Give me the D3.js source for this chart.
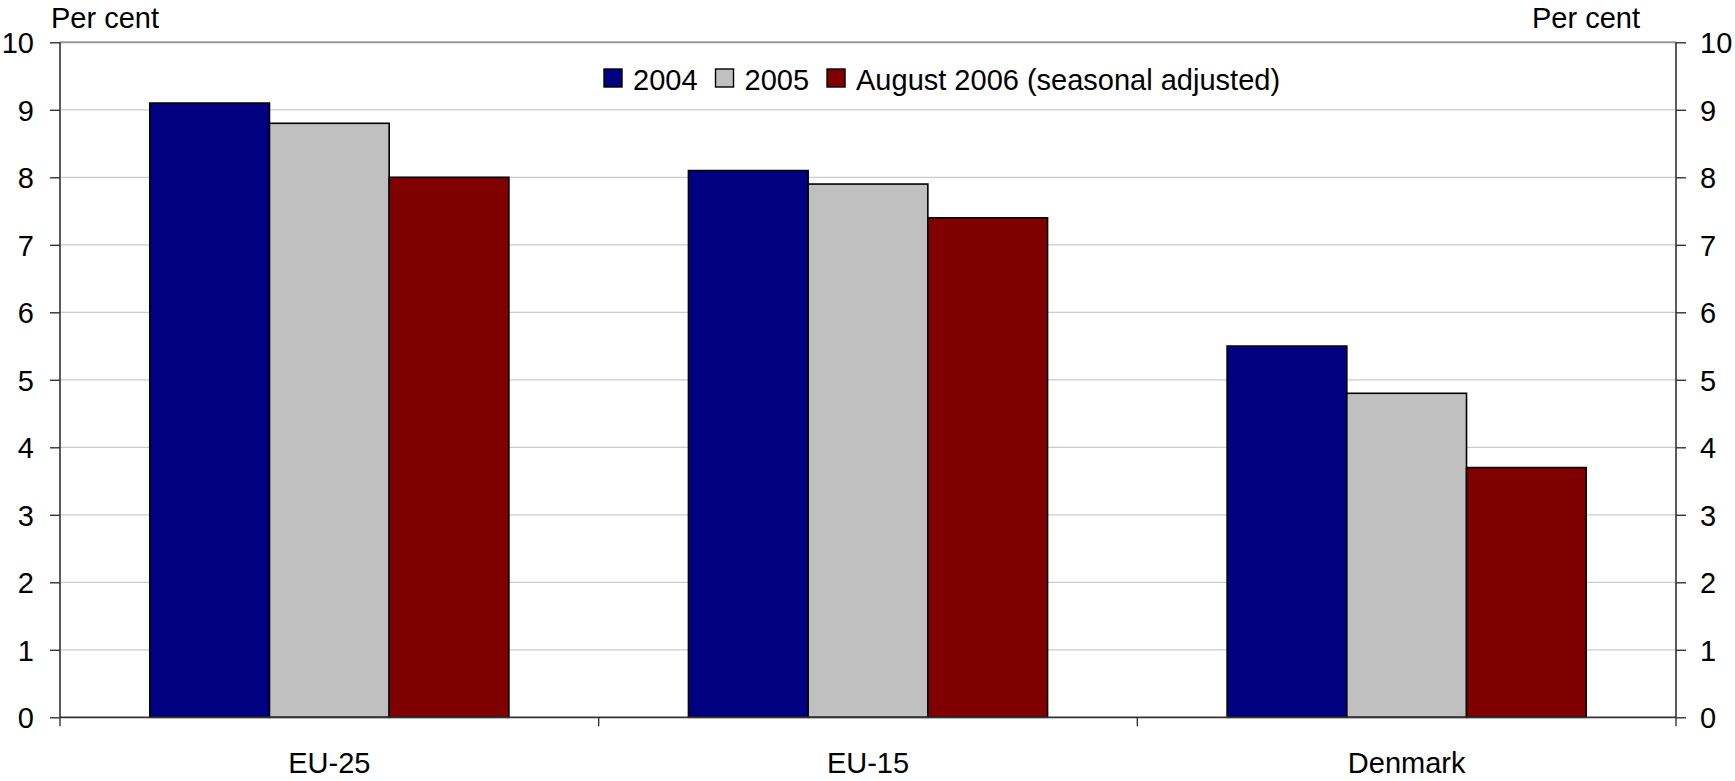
<!DOCTYPE html>
<html>
<head>
<meta charset="utf-8">
<script src="https://cdn.jsdelivr.net/npm/d3@7"></script>
<style>
  html, body { margin: 0; padding: 0; background: #fff; }
  svg { display: block; }
  text { font-family: "Liberation Sans", Arial, sans-serif; fill: #000; }
</style>
</head>
<body>
<svg id="chart" width="1735" height="781"></svg>
<script>
// Unemployment rates, per cent
const categories = ["EU-25", "EU-15", "Denmark"];
const seriesNames = ["2004", "2005", "August 2006 (seasonal adjusted)"];
const values2004 = [9.1, 8.1, 5.5];
const values2005 = [8.8, 7.9, 4.8];
const valuesAug2006 = [8.0, 7.4, 3.7];
const yTicks = [0, 1, 2, 3, 4, 5, 6, 7, 8, 9, 10];
const seriesColors = ["#000080", "#c0c0c0", "#800000"];

const seriesValues = [values2004, values2005, valuesAug2006];

const svg = d3.select("#chart");
const plotLeft = 60, plotRight = 1676, plotTop = 42.3, plotBottom = 717.3;
const fontSize = 29;

const x0 = d3.scaleBand().domain(categories).range([plotLeft, plotRight]).padding(0);
const x1 = d3.scaleBand().domain(seriesNames).range([0, x0.bandwidth()])
  .paddingInner(0).paddingOuter(0.75);
const y = d3.scaleLinear().domain([0, 10]).range([plotBottom, plotTop]);
const color = d3.scaleOrdinal().domain(seriesNames).range(seriesColors);

// Horizontal gridlines
svg.append("g").selectAll("line")
  .data(yTicks.filter(t => t > 0 && t < 10))
  .join("line")
  .attr("x1", plotLeft).attr("x2", plotRight)
  .attr("y1", d => y(d)).attr("y2", d => y(d))
  .attr("stroke", "#cccccc").attr("stroke-width", 1.2);

// Top border of the plot area
svg.append("line")
  .attr("x1", plotLeft).attr("x2", plotRight)
  .attr("y1", y(10)).attr("y2", y(10))
  .attr("stroke", "#999999").attr("stroke-width", 2);

// Bars
const rows = categories.map((c, i) => ({
  category: c,
  items: seriesNames.map((s, j) => ({ series: s, value: seriesValues[j][i] }))
}));

svg.append("g").selectAll("g")
  .data(rows)
  .join("g")
  .attr("transform", d => `translate(${x0(d.category)},0)`)
  .selectAll("rect")
  .data(d => d.items)
  .join("rect")
  .attr("x", d => x1(d.series))
  .attr("y", d => y(d.value))
  .attr("width", x1.bandwidth())
  .attr("height", d => y(0) - y(d.value))
  .attr("fill", d => color(d.series))
  .attr("stroke", "#000")
  .attr("stroke-width", 1.6);

// Left value axis
const leftAxis = svg.append("g")
  .attr("transform", `translate(${plotLeft},0)`)
  .call(d3.axisLeft(y).tickValues(yTicks).tickSize(10).tickPadding(16).tickFormat(d3.format("d")));
leftAxis.select(".domain").attr("stroke", "#333").attr("stroke-width", 1.6)
  .attr("d", `M0,${plotTop}V${plotBottom}`);
leftAxis.selectAll(".tick line").attr("stroke", "#333").attr("stroke-width", 1.4);
leftAxis.selectAll(".tick text")
  .attr("font-size", fontSize).attr("font-family", "Liberation Sans, Arial, sans-serif")
  .attr("fill", "#000").attr("dy", "0.36em");

// Right value axis
const rightAxis = svg.append("g")
  .attr("transform", `translate(${plotRight},0)`)
  .call(d3.axisRight(y).tickValues(yTicks).tickSize(10).tickPadding(14).tickFormat(d3.format("d")));
rightAxis.select(".domain").attr("stroke", "#333").attr("stroke-width", 1.6)
  .attr("d", `M0,${plotTop}V${plotBottom}`);
rightAxis.selectAll(".tick line").attr("stroke", "#333").attr("stroke-width", 1.4);
rightAxis.selectAll(".tick text")
  .attr("font-size", fontSize).attr("font-family", "Liberation Sans, Arial, sans-serif")
  .attr("fill", "#000").attr("dy", "0.36em");

// Category axis
const bottomAxis = svg.append("g")
  .attr("transform", `translate(0,${plotBottom})`)
  .call(d3.axisBottom(x0).tickSize(0).tickPadding(35));
bottomAxis.select(".domain").attr("stroke", "#333").attr("stroke-width", 1.8)
  .attr("d", `M${plotLeft},0H${plotRight}`);
bottomAxis.selectAll(".tick text")
  .attr("font-size", fontSize).attr("font-family", "Liberation Sans, Arial, sans-serif")
  .attr("fill", "#000");

// Category separator ticks
const boundaries = categories.map(c => x0(c)).concat([plotRight]);
svg.append("g").selectAll("line")
  .data(boundaries)
  .join("line")
  .attr("x1", d => d).attr("x2", d => d)
  .attr("y1", plotBottom).attr("y2", plotBottom + 9)
  .attr("stroke", "#333").attr("stroke-width", 1.4);

// Axis unit titles
svg.append("text").attr("x", 51).attr("y", 28)
  .attr("font-size", fontSize).text("Per cent");
svg.append("text").attr("x", 1640).attr("y", 28)
  .attr("text-anchor", "end").attr("font-size", fontSize).text("Per cent");

// Legend
const legend = svg.append("g").attr("transform", "translate(604,69)");
let lx = 0;
seriesNames.forEach(s => {
  const g = legend.append("g").attr("transform", `translate(${lx},0)`);
  g.append("rect").attr("x", 0).attr("y", 0).attr("width", 18).attr("height", 18)
    .attr("fill", color(s)).attr("stroke", "#000").attr("stroke-width", 1.4);
  const t = g.append("text").attr("x", 29).attr("y", 20.5)
    .attr("font-size", fontSize).text(s);
  lx += 29 + t.node().getComputedTextLength() + 18;
});
</script>
</body>
</html>
